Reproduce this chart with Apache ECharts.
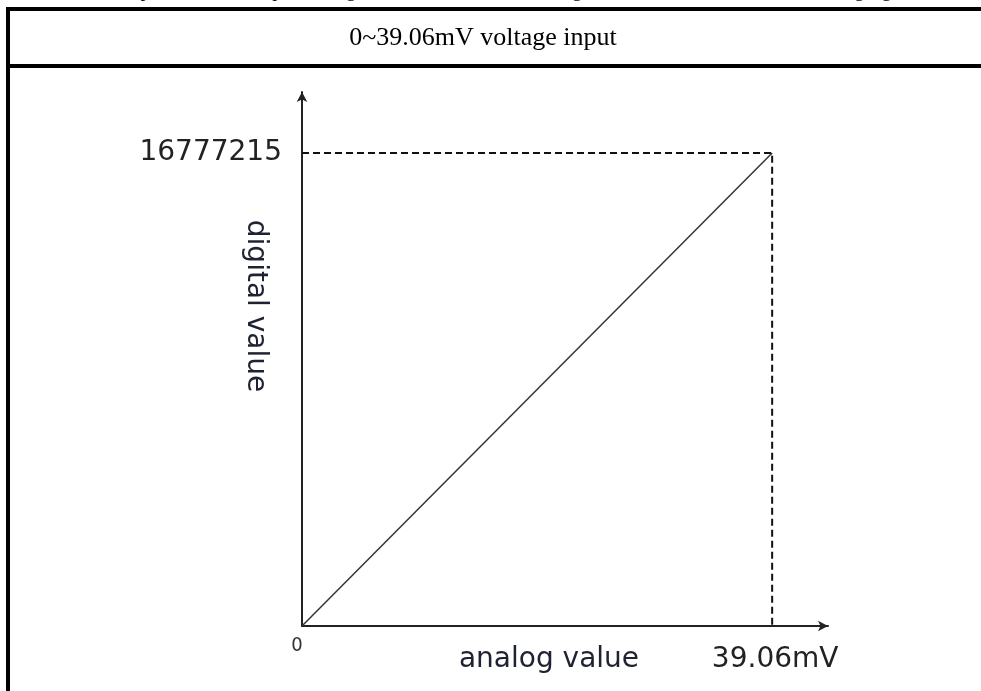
<!DOCTYPE html>
<html>
<head>
<meta charset="utf-8">
<script src="https://cdn.jsdelivr.net/npm/echarts@6/dist/echarts.min.js"></script>
<style>
  html, body { margin: 0; padding: 0; background: #fff; }
  #chart { width: 981px; height: 691px; }
</style>
</head>
<body>
<div id="chart"></div>
<script>
(function () {
  "use strict";
  const chart = echarts.init(document.getElementById("chart"));

  // 量程：0~39.06mV 对应 0~16777215
  const TITLE = "0~39.06mV voltage input";
  const X_NAME = "analog value";
  const Y_NAME = "digital value";
  const X_UNIT = "mV";
  const lineX = [0, 39.06];
  const lineY = [0, 16777215];
  const guideX = [0, 39.06, 39.06];
  const guideY = [16777215, 16777215, 0];
  const xTicks = [0, 39.06];
  const yTicks = [16777215];

  const zip = (xs, ys) => xs.map((x, i) => [x, ys[i]]);
  const labelFont = "'DejaVu Sans', sans-serif";

  chart.setOption({
    animation: false,
    backgroundColor: "#fff",
    grid: { left: 302, right: 153, top: 92, bottom: 65 },
    xAxis: {
      type: "value", min: 0, max: 43.7,
      splitLine: { show: false },
      axisTick: { show: false },
      axisLine: { onZero: false, symbol: ["none", "arrow"], symbolSize: [8, 10], lineStyle: { color: "#222", width: 2 } },
      axisLabel: {
        customValues: xTicks,
        margin: 9,
        formatter: v => v === 0 ? "{z|0}" : "{v|" + v + X_UNIT + "}",
        rich: {
          z: { fontFamily: "'DejaVu Sans Condensed', 'DejaVu Sans', sans-serif", fontSize: 20, color: "#333", padding: [1, 10, 0, 0] },
          v: { fontFamily: labelFont, fontSize: 28, color: "#222", padding: [11, 0, 0, 6] },
        },
      },
    },
    yAxis: {
      type: "value", min: 0, max: 18941000,
      splitLine: { show: false },
      axisTick: { show: false },
      axisLine: { onZero: false, symbol: ["none", "arrow"], symbolSize: [8, 10], lineStyle: { color: "#222", width: 2 } },
      axisLabel: {
        customValues: yTicks,
        margin: 20,
        formatter: v => String(v),
        fontFamily: labelFont, fontSize: 28, color: "#222",
      },
    },
    series: [
      {
        name: "guide", type: "line", data: zip(guideX, guideY), showSymbol: false, silent: true,
        lineStyle: { color: "#111", width: 2, type: [7, 4] },
      },
      {
        name: "value", type: "line", data: zip(lineX, lineY), showSymbol: false, silent: true,
        lineStyle: { color: "#333", width: 1.5 },
      },
    ],
    graphic: [
      // 表格边框
      { type: "rect", shape: { x: 6, y: 7, width: 4, height: 700 }, style: { fill: "#000" } },
      { type: "rect", shape: { x: 6, y: 7, width: 990, height: 4 }, style: { fill: "#000" } },
      { type: "rect", shape: { x: 6, y: 64, width: 990, height: 4 }, style: { fill: "#000" } },
      {
        type: "text", x: 20, y: -19,
        style: { text: "The relationship between the input analog value and the converted digital value is shown in the following figure:", font: "20px 'Liberation Serif', serif", fill: "#000" },
      },
      {
        type: "text", x: 483, y: 38,
        style: { text: TITLE, font: "26px 'Liberation Serif', serif", fill: "#000", align: "center", verticalAlign: "middle" },
      },
      {
        type: "text", x: 255, y: 306, rotation: -Math.PI / 2,
        style: { text: Y_NAME, font: "28px " + labelFont, fill: "#1e2233", align: "center", verticalAlign: "middle" },
      },
      {
        type: "text", x: 549, y: 660,
        style: { text: X_NAME, font: "28px " + labelFont, fill: "#1e2233", align: "center", verticalAlign: "middle" },
      },
    ],
  });

  window.addEventListener("resize", () => chart.resize());
})();
</script>
</body>
</html>
